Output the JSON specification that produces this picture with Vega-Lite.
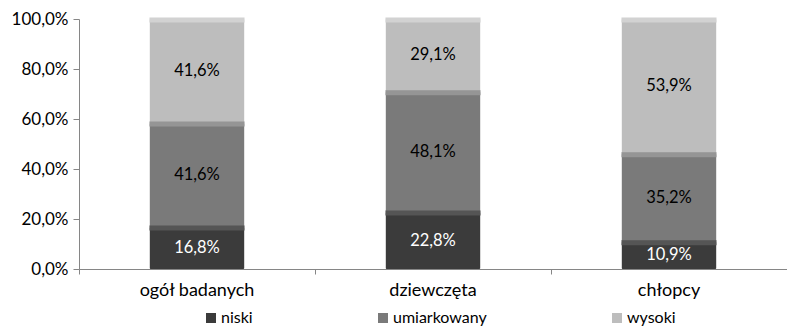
{
  "$schema": "https://vega.github.io/schema/vega-lite/v6.json",
  "width": 708,
  "height": 250,
  "autosize": "none",
  "padding": {"left": 79, "top": 19, "right": 0, "bottom": 62},
  "config": {
    "locale": {"number": {"decimal": ",", "thousands": " ", "grouping": [3], "currency": ["", " zł"]}},
    "view": {"stroke": null},
    "font": "Lato",
    "axis": {"labelFont": "Lato", "labelFontSize": 17, "labelColor": "#000000", "domainColor": "#868686", "tickColor": "#868686", "title": null, "labelOverlap": false},
    "legend": {"labelFont": "Lato", "labelFontSize": 16, "labelColor": "#000000", "labelLimit": 300}
  },
  "data": {"values": [
    {"grupa": "ogół badanych", "poziom": "niski", "k": 1, "v": 0.168},
    {"grupa": "ogół badanych", "poziom": "umiarkowany", "k": 2, "v": 0.416},
    {"grupa": "ogół badanych", "poziom": "wysoki", "k": 3, "v": 0.416},
    {"grupa": "dziewczęta", "poziom": "niski", "k": 1, "v": 0.228},
    {"grupa": "dziewczęta", "poziom": "umiarkowany", "k": 2, "v": 0.481},
    {"grupa": "dziewczęta", "poziom": "wysoki", "k": 3, "v": 0.291},
    {"grupa": "chłopcy", "poziom": "niski", "k": 1, "v": 0.109},
    {"grupa": "chłopcy", "poziom": "umiarkowany", "k": 2, "v": 0.352},
    {"grupa": "chłopcy", "poziom": "wysoki", "k": 3, "v": 0.539}
  ]},
  "transform": [
    {"stack": "v", "groupby": ["grupa"], "sort": [{"field": "k", "order": "ascending"}], "as": ["y0", "y1"]},
    {"calculate": "(datum.y0 + datum.y1) / 2", "as": "ym"}
  ],
  "encoding": {
    "x": {
      "field": "grupa", "type": "nominal",
      "sort": ["ogół badanych", "dziewczęta", "chłopcy"],
      "scale": {"paddingInner": 0, "paddingOuter": 0},
      "axis": {"labelAngle": 0, "bandPosition": 0, "tickSize": 5, "labelPadding": 7, "labelFontSize": 18, "domainWidth": 1}
    }
  },
  "layer": [
    {
      "mark": {"type": "bar", "width": {"band": 0.4}, "cornerRadius": 1},
      "encoding": {
        "y": {"field": "y0", "type": "quantitative", "scale": {"domain": [0, 1]},
          "axis": {"format": ".1%", "values": [0, 0.2, 0.4, 0.6, 0.8, 1], "tickSize": 6, "labelPadding": 5, "grid": false}},
        "y2": {"field": "y1"},
        "color": {"field": "poziom", "type": "nominal",
          "scale": {"domain": ["niski", "umiarkowany", "wysoki"], "range": ["#3b3b3b", "#7a7a7a", "#bdbdbd"]},
          "legend": {"orient": "none", "legendX": 124, "legendY": 291, "direction": "horizontal", "title": null, "symbolType": "square", "symbolSize": 100, "symbolStrokeWidth": 0, "columnPadding": 122, "labelOffset": 2, "padding": 0}}
      }
    },
    {
      "mark": {"type": "bar", "width": {"band": 0.39}, "yOffset": 2, "strokeWidth": 3, "fillOpacity": 0},
      "encoding": {
        "y": {"field": "y1", "type": "quantitative"},
        "y2": {"field": "y1"},
        "stroke": {"field": "poziom", "type": "nominal",
          "scale": {"domain": ["niski", "umiarkowany", "wysoki"], "range": ["#555555", "#959595", "#d2d2d2"]},
          "legend": null}
      }
    },
    {
      "mark": {"type": "text", "font": "Lato", "fontSize": 16.5},
      "encoding": {
        "y": {"field": "ym", "type": "quantitative"},
        "text": {"field": "v", "type": "quantitative", "format": ".1%"},
        "color": {"condition": {"test": "datum.poziom === 'niski'", "value": "#ffffff"}, "value": "#000000"}
      }
    }
  ]
}
